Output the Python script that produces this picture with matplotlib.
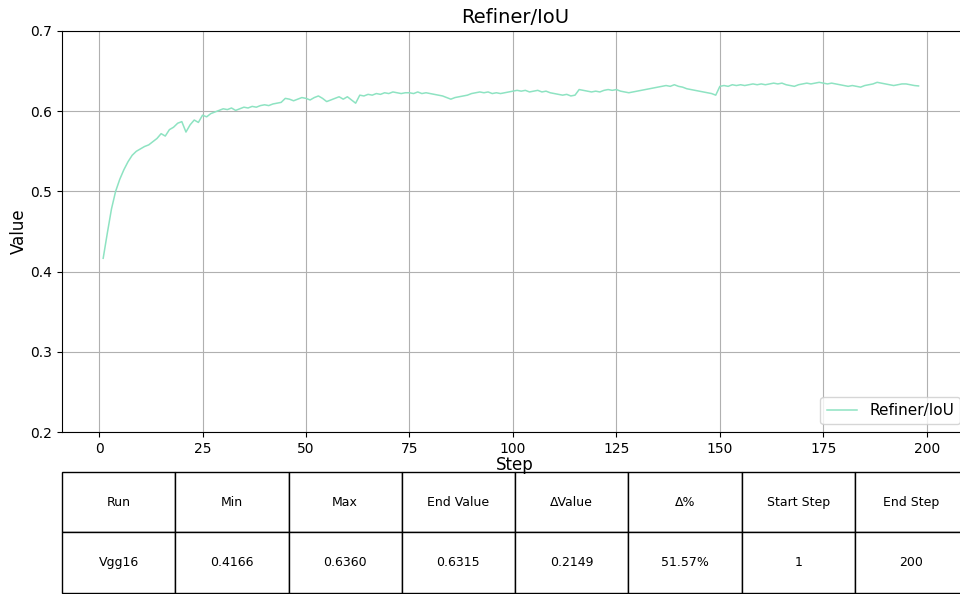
import numpy as np
import matplotlib.pyplot as plt

# Refiner/IoU per step
iou = [
    0.4166, 0.448, 0.478, 0.500, 0.515, 0.527, 0.537, 0.545, 0.550, 0.553,
    0.556, 0.558, 0.562, 0.566, 0.572, 0.569, 0.577, 0.580, 0.585, 0.587,
    0.574, 0.583, 0.589, 0.586, 0.595, 0.593, 0.597, 0.599, 0.601, 0.603,
    0.602, 0.604, 0.601, 0.603, 0.605, 0.604, 0.606, 0.605, 0.607, 0.608,
    0.607, 0.609, 0.610, 0.611, 0.616, 0.615, 0.613, 0.615, 0.617, 0.616,
    0.614, 0.617, 0.619, 0.616, 0.612, 0.614, 0.616, 0.618, 0.615, 0.618,
    0.614, 0.610, 0.620, 0.619, 0.621, 0.620, 0.622, 0.621, 0.623, 0.622,
    0.624, 0.623, 0.622, 0.623, 0.623, 0.622, 0.624, 0.622, 0.623, 0.622,
    0.621, 0.620, 0.619, 0.617, 0.615, 0.617, 0.618, 0.619, 0.620, 0.622,
    0.623, 0.624, 0.623, 0.624, 0.622, 0.623, 0.622, 0.623, 0.624, 0.625,
    0.626, 0.625, 0.626, 0.624, 0.625, 0.626, 0.624, 0.625, 0.623, 0.622,
    0.621, 0.620, 0.621, 0.619, 0.620, 0.627, 0.626, 0.625, 0.624, 0.625,
    0.624, 0.626, 0.627, 0.626, 0.627, 0.625, 0.624, 0.623, 0.624, 0.625,
    0.626, 0.627, 0.628, 0.629, 0.630, 0.631, 0.632, 0.631, 0.633, 0.631,
    0.630, 0.628, 0.627, 0.626, 0.625, 0.624, 0.623, 0.622, 0.620, 0.631,
    0.632, 0.631, 0.633, 0.632, 0.633, 0.632, 0.633, 0.634, 0.633, 0.634,
    0.633, 0.634, 0.635, 0.634, 0.635, 0.633, 0.632, 0.631, 0.633, 0.634,
    0.635, 0.634, 0.635, 0.636, 0.635, 0.634, 0.635, 0.634, 0.633, 0.632,
    0.631, 0.632, 0.631, 0.630, 0.632, 0.633, 0.634, 0.636, 0.635, 0.634,
    0.633, 0.632, 0.633, 0.634, 0.634, 0.633, 0.632, 0.6315,
]
steps = np.arange(1, len(iou) + 1)

# summary table
col_labels = ["Run", "Min", "Max", "End Value", "\u0394Value", "\u0394%", "Start Step", "End Step"]
row_values = ["Vgg16", "0.4166", "0.6360", "0.6315", "0.2149", "51.57%", "1", "200"]

fig = plt.figure(figsize=(9.6, 5.94), dpi=100)
# axes runs a bit past the right edge, like the cropped original
ax = fig.add_axes([62 / 960, 162 / 594, 906 / 960, 401 / 594])

ax.plot(steps, iou, color="#8ee3c2", lw=1.1, label="Refiner/IoU")
ax.set_xlim(-8.95, 209.95)
ax.set_ylim(0.2, 0.7)
ax.set_yticks([0.2, 0.3, 0.4, 0.5, 0.6, 0.7])
ax.set_title("Refiner/IoU", fontsize=14)
ax.set_xlabel("Step", fontsize=12, labelpad=0)
ax.set_ylabel("Value", fontsize=12, labelpad=2)
ax.grid(True, color="#b0b0b0", lw=0.8)
ax.legend(loc="lower right", fontsize=11)

tbl = ax.table(cellText=[row_values], colLabels=col_labels,
               cellLoc="center", bbox=[0, -0.4015, 1.0, 0.302])
tbl.auto_set_font_size(False)
tbl.set_fontsize(9)
for cell in tbl.get_celld().values():
    cell.set_linewidth(1.0)

fig.savefig("out.png", dpi=100)
